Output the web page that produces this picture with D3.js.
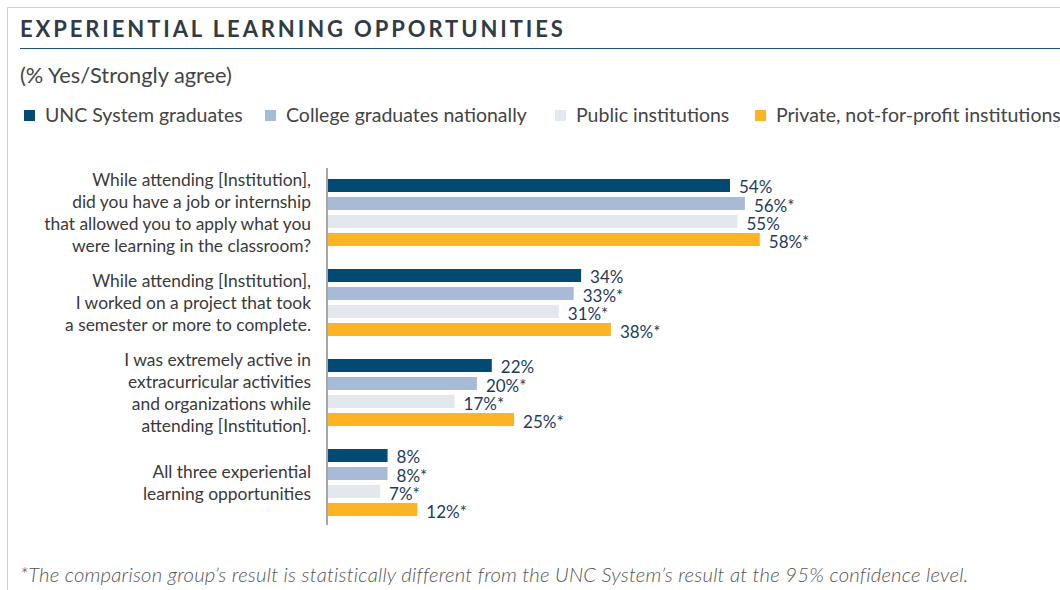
<!DOCTYPE html>
<html>
<head>
<meta charset="utf-8">
<script src="https://cdn.jsdelivr.net/npm/d3@7"></script>
<style>
  body { margin: 0; background: #fff; }
  svg { display: block; font-family: Lato, "Open Sans", sans-serif; }
</style>
</head>
<body>
<svg width="1060" height="590"></svg>
<script>
const width = 1060, height = 590;

// data
const categories = [
  ["While attending [Institution],", "did you have a job or internship", "that allowed you to apply what you", "were learning in the classroom?"],
  ["While attending [Institution],", "I worked on a project that took", "a semester or more to complete."],
  ["I was extremely active in", "extracurricular activities", "and organizations while", "attending [Institution]."],
  ["All three experiential", "learning opportunities"]
];
const seriesNames = ["UNC System graduates", "College graduates nationally", "Public institutions", "Private, not-for-profit institutions"];
const unc = [54, 34, 22, 8];
const national = [56, 33, 20, 8];
const publicInst = [55, 31, 17, 7];
const privateInst = [58, 38, 25, 12];
// statistically different from UNC (asterisk)
const flags = [
  [false, false, false, false],
  [true, true, true, true],
  [false, true, true, true],
  [true, true, true, true]
];
const colors = ["#004a74", "#a7bbd6", "#e3e7ee", "#fdb424"];

const series = [unc, national, publicInst, privateInst];

const svg = d3.select("svg");

// frame
svg.append("path")
  .attr("d", "M7.5,590 V7.5 H1060")
  .attr("fill", "none")
  .attr("stroke", "#cfcfcf");

// title
svg.append("text")
  .attr("x", 20).attr("y", 37)
  .attr("font-size", 22).attr("font-weight", 700)
  .attr("letter-spacing", 2.9)
  .attr("fill", "#303b45")
  .text("EXPERIENTIAL LEARNING OPPORTUNITIES");

svg.append("line")
  .attr("x1", 20).attr("x2", 1060)
  .attr("y1", 48.5).attr("y2", 48.5)
  .attr("stroke", "#1f4e79").attr("stroke-width", 1.2);

svg.append("text")
  .attr("x", 20).attr("y", 83)
  .attr("font-size", 21.8).attr("fill", "#444")
  .text("(% Yes/Strongly agree)");

// legend
const legendX = [24, 265, 555, 755];
const legend = svg.append("g").selectAll("g")
  .data(seriesNames)
  .join("g")
  .attr("transform", (d, i) => `translate(${legendX[i]},110)`);
legend.append("rect")
  .attr("width", 11).attr("height", 11)
  .attr("fill", (d, i) => colors[i]);
legend.append("text")
  .attr("x", 21).attr("y", 12)
  .attr("font-size", 19.5).attr("fill", "#444")
  .text(d => d);

// scales
const x0 = 328;
const x = d3.scaleLinear().domain([0, 54]).range([x0, 730]);

const groupTop = 179, groupStep = 90, barStep = 18, barH = 13;

const y = d3.scaleBand()
  .domain(d3.range(categories.length))
  .range([groupTop, groupTop + groupStep * categories.length]);

// axis line
svg.append("line")
  .attr("x1", 327).attr("x2", 327)
  .attr("y1", 168).attr("y2", 525)
  .attr("stroke", "#a6a6a6").attr("stroke-width", 2);

const groups = svg.append("g").selectAll("g")
  .data(categories)
  .join("g")
  .attr("transform", (d, i) => `translate(0,${y(i)})`);

// bars
groups.each(function(cat, ci) {
  const g = d3.select(this);
  series.forEach((vals, si) => {
    g.append("rect")
      .attr("x", x0)
      .attr("y", si * barStep)
      .attr("width", x(vals[ci]) - x0)
      .attr("height", barH)
      .attr("fill", colors[si]);
    g.append("text")
      .attr("x", x(vals[ci]) + 9)
      .attr("y", si * barStep + barH / 2 + (si ? 2.5 : 1))
      .attr("dy", "0.36em")
      .attr("font-size", 17)
      .attr("fill", "#1f3b5c")
      .text(vals[ci] + "%" + (flags[si][ci] ? "*" : ""));
  });

  // category label
  const lh = 22;
  const cy = (3 * barStep + barH) / 2;
  g.append("text")
    .attr("text-anchor", "end")
    .attr("font-size", 17.4)
    .attr("fill", "#3a3a3a")
    .selectAll("tspan")
    .data(cat)
    .join("tspan")
    .attr("x", 311)
    .attr("y", (d, i) => cy + (i - (cat.length - 1) / 2) * lh)
    .attr("dy", "0.35em")
    .text(d => d);
});

// footnote
svg.append("text")
  .attr("x", 20).attr("y", 582)
  .attr("font-size", 20.3).attr("font-style", "italic").attr("font-weight", 300)
  .attr("letter-spacing", 0.2)
  .attr("fill", "#555")
  .text("*The comparison group\u2019s result is statistically different from the UNC System\u2019s result at the 95% confidence level.");
</script>
</body>
</html>
